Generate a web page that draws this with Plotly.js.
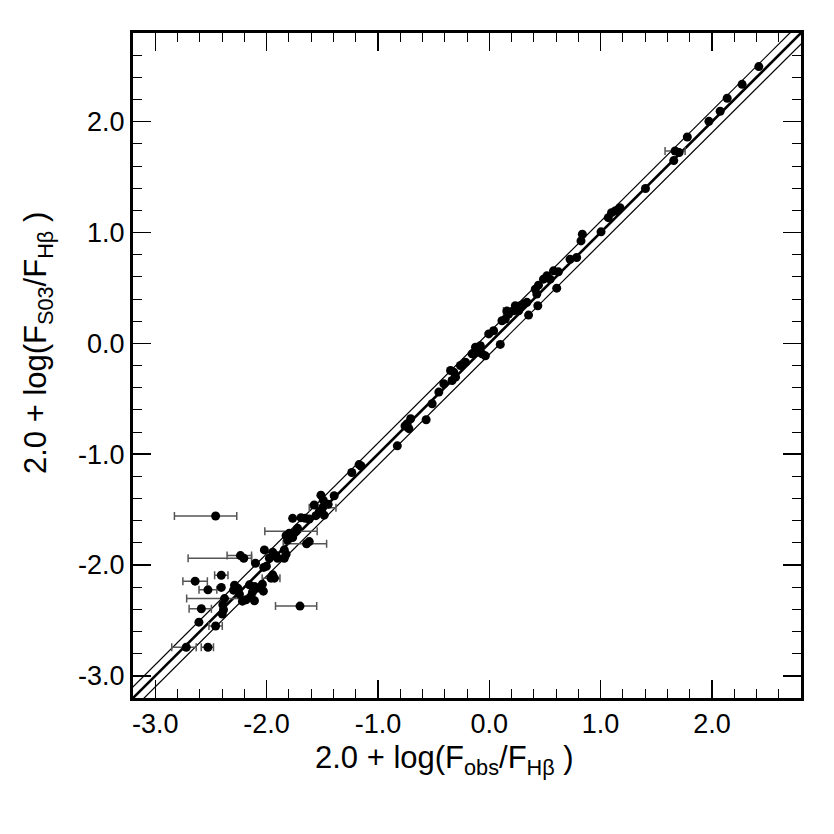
<!DOCTYPE html>
<html>
<head>
<meta charset="utf-8">
<script src="https://cdn.plot.ly/plotly-3.0.1.min.js"></script>
<style>
  html, body { margin: 0; padding: 0; background: #fff; }
  #chart { width: 834px; height: 834px; }
</style>
</head>
<body>
<div id="chart"></div>
<script>
// Observed vs. model line ratios, both as 2.0 + log(F/F_Hbeta)

// points without measurement errors
const obsX = [
  -2.608, -2.398, -2.387, -2.393, -2.407,
  -2.288, -2.259, -2.244, -2.217, -2.184, -2.154, -2.109, -2.127, -2.139, -2.082, -2.038, -2.029, -2.109, -2.297,
  -1.945, -1.930, -2.026, -2.002, -2.100,
  -2.020, -1.945, -1.915, -1.841, -1.825, -1.841, -1.975, -1.901,
  -1.617, -1.825, -1.796, -1.766, -1.811, -1.722,
  -1.766, -1.691, -1.653, -1.617, -1.512, -1.393, -1.491, -1.572, -1.527, -1.483, -1.557, -1.447,
  -1.235, -1.169, -1.151, -0.826, -0.757, -0.737, -0.706, -0.722, -0.567, -0.513, -0.453, -0.408,
  -0.348, -0.319, -0.303, -0.334, -0.259, -0.214, -0.155, -0.124, -0.110, -0.080, -0.065, -0.035,
  0.099, -0.005, 0.039, 0.114, 0.144, 0.174, 0.353, 0.219, 0.264, 0.234, 0.279, 0.308, 0.338,
  0.436, 0.427, 0.413, 0.442, 0.487, 0.517, 0.547, 0.577, 0.621, 0.606,
  0.726, 0.785, 0.824, 0.836, 1.004, 1.069, 1.098, 1.129, 1.174, 1.403,
  1.657, 1.705, 1.779, 1.973, 2.074, 2.137, 2.271, 2.421
];
const modelY = [
  -2.516, -2.442, -2.404, -2.359, -2.202,
  -2.182, -2.209, -2.263, -2.326, -2.314, -2.179, -2.193, -2.245, -2.283, -2.209, -2.173, -2.236, -2.323, -2.227,
  -2.089, -2.119, -2.022, -2.011, -1.984,
  -1.864, -1.885, -1.915, -1.864, -1.903, -1.939, -1.939, -1.939,
  -1.789, -1.735, -1.714, -1.753, -1.774, -1.669,
  -1.579, -1.573, -1.579, -1.585, -1.370, -1.375, -1.415, -1.459, -1.519, -1.550, -1.555, -1.453,
  -1.165, -1.094, -1.107, -0.925, -0.746, -0.725, -0.680, -0.770, -0.689, -0.545, -0.440, -0.365,
  -0.245, -0.260, -0.305, -0.335, -0.200, -0.170, -0.095, -0.035, -0.080, -0.021, -0.095, -0.113,
  -0.010, 0.085, 0.114, 0.204, 0.219, 0.264, 0.255, 0.294, 0.294, 0.339, 0.339, 0.354, 0.370,
  0.339, 0.444, 0.489, 0.525, 0.579, 0.609, 0.579, 0.654, 0.645, 0.498,
  0.759, 0.774, 0.924, 0.984, 1.006, 1.134, 1.179, 1.193, 1.224, 1.397,
  1.649, 1.721, 1.862, 2.003, 2.094, 2.211, 2.337, 2.497
];

// points with horizontal error bars on the observed ratio
const errX = [
  -2.458, -2.722, -2.527, -2.458, -2.586, -2.378, -2.527, -2.642, -2.407,
  -1.960, -2.235, -2.205, -1.641, -1.736, -1.497, -1.700, 0.158, 1.669
];
const errY = [
  -1.558, -2.742, -2.742, -2.550, -2.395, -2.303, -2.224, -2.146, -2.092,
  -2.119, -1.915, -1.939, -1.808, -1.696, -1.483, -2.371, 0.291, 1.735
];
const errMinus = [
  0.37, 0.13, 0.06, 0.06, 0.11, 0.34, 0.08, 0.11, 0.06,
  0.08, 0.12, 0.50, 0.21, 0.28, 0.12, 0.22, 0.03, 0.09
];
const errPlus = [
  0.19, 0.09, 0.05, 0.06, 0.09, 0.20, 0.08, 0.11, 0.06,
  0.08, 0.10, 0.07, 0.18, 0.19, 0.12, 0.15, 0.03, 0.09
];

// one-to-one relation and the +/-0.1 dex band around it
const diagX = [-3.4, 3.0];
const bandOffset = 0.1;

const tickVals = [-3, -2, -1, 0, 1, 2];
const tickText = ['-3.0', '-2.0', '-1.0', '0.0', '1.0', '2.0'];

const xTitle = '2.0 + log(F<sub>obs</sub>/F<sub>Hβ</sub> )';
const yTitle = '2.0 + log(F<sub>S03</sub>/F<sub>Hβ</sub> )';

const FONT = 'Liberation Sans, Arial, Helvetica, sans-serif';

const traces = [
  {
    x: diagX, y: diagX.map(v => v + bandOffset),
    mode: 'lines', line: {color: '#000', width: 1.2},
    hoverinfo: 'skip', showlegend: false
  },
  {
    x: diagX, y: diagX.map(v => v - bandOffset),
    mode: 'lines', line: {color: '#000', width: 1.2},
    hoverinfo: 'skip', showlegend: false
  },
  {
    x: diagX, y: diagX,
    mode: 'lines', line: {color: '#000', width: 2.6},
    hoverinfo: 'skip', showlegend: false
  },
  {
    x: errX, y: errY,
    mode: 'markers', type: 'scatter',
    marker: {color: '#000', size: 9},
    error_x: {
      type: 'data', symmetric: false,
      array: errPlus, arrayminus: errMinus,
      color: '#555', thickness: 1.5, width: 4
    },
    showlegend: false
  },
  {
    x: obsX, y: modelY,
    mode: 'markers', type: 'scatter',
    marker: {color: '#000', size: 9},
    showlegend: false
  }
];

function axis(extra) {
  return Object.assign({
    range: [-3.2, 2.8],
    tickvals: tickVals,
    ticktext: tickText,
    ticks: 'inside',
    ticklen: 18,
    tickwidth: 1.5,
    tickcolor: '#000',
    mirror: 'allticks',
    showline: true,
    linewidth: 3,
    linecolor: '#000',
    showgrid: false,
    zeroline: false,
    minor: {dtick: 0.2, ticks: 'inside', ticklen: 9, tickwidth: 1, tickcolor: '#000', showgrid: false},
    tickfont: {family: FONT, size: 27, color: '#000'}
  }, extra);
}

const layout = {
  width: 834,
  height: 834,
  margin: {l: 133, r: 33, t: 33, b: 136},
  paper_bgcolor: '#fff',
  plot_bgcolor: '#fff',
  font: {family: FONT, color: '#000'},
  xaxis: axis({}),
  yaxis: axis({}),
  annotations: [
    {
      text: xTitle, xref: 'paper', yref: 'paper',
      x: 0.466, y: -0.093, xanchor: 'center', yanchor: 'middle',
      showarrow: false, font: {family: FONT, size: 31, color: '#000'}
    },
    {
      text: yTitle, xref: 'paper', yref: 'paper', textangle: -90,
      x: -0.142, y: 0.534, xanchor: 'center', yanchor: 'middle',
      showarrow: false, font: {family: FONT, size: 31, color: '#000'}
    }
  ],
  showlegend: false
};

Plotly.newPlot('chart', traces, layout, {displayModeBar: false, staticPlot: true});
</script>
</body>
</html>
